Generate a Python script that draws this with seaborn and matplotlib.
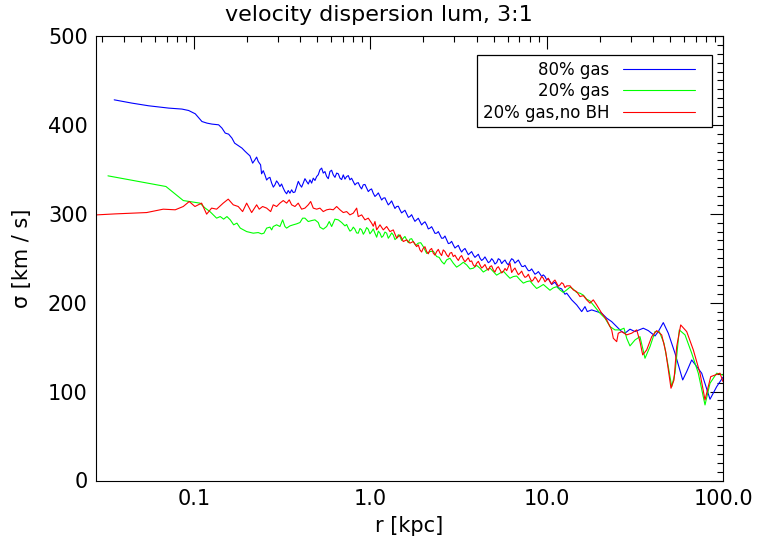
import matplotlib
matplotlib.use("Agg")
import matplotlib.pyplot as plt
import seaborn as sns
import pandas as pd
from matplotlib.legend_handler import HandlerLine2D
from matplotlib.ticker import FixedLocator, NullFormatter, FixedFormatter, LogLocator

# Radii [kpc] and luminosity-weighted velocity dispersion [km/s]
r_80gas = [0.03526, 0.04444, 0.05527, 0.07178, 0.0854, 0.0932, 0.1016, 0.1109, 0.1184, 0.1264,
           0.1379, 0.144, 0.1503, 0.1571, 0.1641, 0.1699, 0.1791, 0.187, 0.1936, 0.1995,
           0.2075, 0.215, 0.2215, 0.2265, 0.2313, 0.2385, 0.2416, 0.2524, 0.2636, 0.2756,
           0.2876, 0.3003, 0.307, 0.3206, 0.3278, 0.3351, 0.3422, 0.3499, 0.3578, 0.3653,
           0.3819, 0.3989, 0.4163, 0.4352, 0.4545, 0.4645, 0.4745, 0.496, 0.5177, 0.5295,
           0.5406, 0.5651, 0.59, 0.6161, 0.644, 0.6725, 0.7022, 0.7338, 0.766, 0.7998,
           0.8363, 0.873, 0.9115, 0.9528, 0.9948, 1.038, 1.086, 1.134, 1.184, 1.237,
           1.292, 1.349, 1.41, 1.472, 1.537, 1.607, 1.677, 1.751, 1.83, 1.911,
           1.996, 2.086, 2.178, 2.275, 2.377, 2.482, 2.591, 2.709, 2.828, 2.953,
           3.087, 3.223, 3.365, 3.518, 3.673, 3.835, 4.009, 4.185, 4.37, 4.567,
           4.769, 4.979, 5.205, 5.435, 5.674, 5.932, 6.193, 6.466, 6.76, 7.058,
           7.368, 7.703, 8.042, 8.395, 8.777, 9.163, 9.566, 10.0, 10.44, 10.9,
           11.4, 11.9, 12.42, 12.99, 13.86, 14.8, 15.8, 16.49, 16.99, 18.0,
           19.21, 20.51, 21.9, 23.37, 24.95, 26.63, 27.81, 29.68, 31.69, 35.31,
           37.7, 41.15, 42.95, 45.85, 48.95, 53.42, 59.08, 62.25, 66.45, 70.93,
           75.72, 84.4, 92.1, 100.0]
sig_80gas = [428.2, 424.5, 421.5, 418.9, 417.8, 416.2, 412.5, 403.8, 402.0, 400.9,
             400.1, 396.4, 390.8, 389.6, 385.1, 379.5, 376.5, 373.9, 370.8, 368.3,
             365.2, 357.0, 360.7, 363.8, 358.8, 355.1, 345.0, 343.8, 340.1, 334.5,
             332.6, 334.5, 330.7, 328.9, 325.0, 322.5, 326.2, 323.2, 327.0, 323.9,
             330.7, 332.6, 334.5, 336.3, 338.2, 334.5, 340.1, 341.9, 349.5, 351.4,
             345.8, 341.9, 347.6, 343.8, 345.8, 340.1, 343.8, 341.9, 338.2, 336.3,
             334.5, 330.7, 332.6, 328.9, 327.0, 323.2, 321.3, 319.4, 317.6, 313.8,
             312.0, 310.1, 308.2, 304.5, 302.5, 299.9, 296.9, 295.1, 293.2, 291.3,
             289.5, 287.6, 283.9, 281.9, 278.2, 276.3, 272.6, 270.7, 267.0, 265.1,
             263.1, 260.2, 259.4, 257.5, 255.7, 253.8, 252.7, 250.1, 249.0, 248.2,
             246.3, 247.4, 245.1, 248.2, 246.3, 244.5, 246.3, 248.2, 246.3, 244.5,
             240.6, 238.8, 236.1, 235.0, 233.2, 232.4, 231.3, 225.7, 223.7, 221.9,
             220.0, 216.3, 212.5, 210.7, 203.2, 197.5, 190.0, 195.6, 190.0, 191.9,
             190.0, 188.2, 182.6, 178.7, 173.1, 167.5, 165.7, 170.2, 167.5, 171.3,
             168.6, 162.6, 167.5, 177.6, 165.7, 143.2, 113.1, 122.5, 135.6, 128.1,
             120.7, 91.4, 105.6, 116.2]
# fine-scale scatter between the samples above
r_80gas_fine = [0.2469, 0.2580, 0.2694, 0.2817, 0.2939, 0.3137, 0.3735, 0.3903, 0.4075, 0.4256,
                0.4447, 0.4851, 0.5067, 0.5527, 0.5774, 0.6029, 0.6299, 0.6581, 0.6872, 0.7178,
                0.7497, 0.7827, 0.8178, 0.8544, 0.8920, 0.9319, 0.9735, 1.016, 1.062, 1.110,
                1.159, 1.210, 1.264, 1.320, 1.379, 1.441, 1.504, 1.571, 1.642, 1.714,
                1.790, 1.870, 1.953, 2.040, 2.131, 2.226, 2.325, 2.429, 2.536, 2.650,
                2.769, 2.890, 3.019, 3.155, 3.293, 3.441, 3.594, 3.753, 3.921, 4.097,
                4.277, 4.467, 4.667, 4.874, 5.089, 5.319, 5.555, 5.803, 6.061, 6.329,
                6.608, 6.908, 7.213, 7.534, 7.871, 8.218, 8.584, 8.970, 9.363, 9.779,
                10.22, 10.67, 11.14, 11.65, 12.16, 12.70]
sig_80gas_fine = [348.5, 338.0, 341.0, 330.0, 337.0, 333.5, 324.5, 336.5, 330.0, 339.5,
                  333.5, 337.5, 344.0, 347.5, 339.5, 349.0, 341.0, 345.0, 338.5, 339.0,
                  343.0, 340.0, 332.5, 335.0, 328.0, 333.0, 325.0, 328.0, 319.5, 323.5,
                  315.5, 318.0, 310.0, 314.5, 306.0, 308.5, 301.0, 304.0, 296.0, 299.0,
                  291.5, 295.0, 287.5, 291.0, 283.0, 285.5, 278.0, 280.0, 272.5, 275.0,
                  266.5, 269.0, 261.5, 264.5, 257.0, 261.0, 254.0, 257.5, 251.0, 254.5,
                  247.5, 251.5, 245.0, 249.5, 243.5, 249.5, 244.0, 248.0, 242.5, 249.5,
                  244.5, 248.0, 241.0, 242.0, 236.0, 238.0, 232.0, 235.0, 229.5, 229.5,
                  227.0, 220.5, 223.0, 216.5, 215.5, 209.5]

r_20gas = [0.0325, 0.0693, 0.0869, 0.108, 0.1157, 0.1231, 0.1343, 0.1408, 0.1472, 0.1537,
           0.1605, 0.1678, 0.1751, 0.1829, 0.1988, 0.2167, 0.2313, 0.2416, 0.2491, 0.2581,
           0.2695, 0.2756, 0.2813, 0.2941, 0.307, 0.3181, 0.3278, 0.3351, 0.3499, 0.3653,
           0.3819, 0.3989, 0.413, 0.4256, 0.4444, 0.4645, 0.4851, 0.5064, 0.5177, 0.5406,
           0.5651, 0.5846, 0.6032, 0.6297, 0.6576, 0.6875, 0.7177, 0.7497, 0.7833, 0.8177,
           0.8539, 0.8927, 0.9319, 0.973, 1.017, 1.062, 1.086, 1.134, 1.184, 1.237,
           1.292, 1.349, 1.41, 1.472, 1.537, 1.607, 1.677, 1.751, 1.869, 1.996,
           2.178, 2.377, 2.538, 2.709, 2.953, 3.223, 3.518, 3.835, 4.185, 4.567,
           4.979, 5.435, 5.932, 6.466, 7.058, 7.703, 8.395, 9.163, 10.0, 10.9,
           11.9, 12.99, 14.16, 15.45, 16.86, 18.38, 20.06, 21.42, 22.86, 24.4,
           26.05, 27.45, 28.43, 29.68, 31.69, 33.82, 36.11, 38.55, 41.15, 43.52,
           46.27, 48.95, 51.17, 53.42, 56.51, 60.89, 66.45, 72.43, 79.06, 84.4,
           92.1, 100.0]
sig_20gas = [342.7, 330.7, 314.9, 312.0, 306.4, 302.5, 295.1, 296.9, 294.0, 296.9,
             293.2, 287.6, 289.5, 283.9, 280.0, 278.2, 278.9, 277.4, 278.2, 283.9,
             285.0, 281.9, 285.7, 287.6, 285.7, 293.2, 285.7, 283.9, 286.4, 287.6,
             288.7, 290.2, 295.1, 295.1, 291.3, 292.4, 293.2, 290.2, 285.0, 282.7,
             285.7, 291.3, 285.7, 294.0, 293.2, 290.2, 286.4, 283.9, 281.9, 282.7,
             278.2, 281.9, 280.0, 282.7, 280.0, 278.2, 273.7, 278.2, 275.2, 278.2,
             275.2, 276.3, 272.6, 274.4, 272.6, 270.7, 271.5, 268.8, 267.0, 263.1,
             257.5, 251.9, 246.3, 248.2, 244.5, 242.5, 242.5, 238.8, 238.8, 236.9,
             235.0, 233.2, 231.3, 229.4, 225.7, 223.7, 220.0, 218.1, 217.2, 216.7,
             214.4, 214.4, 215.2, 210.7, 203.9, 197.5, 188.2, 182.6, 173.1, 169.4,
             169.4, 171.3, 160.0, 151.4, 158.1, 161.8, 137.5, 150.6, 167.5, 167.5,
             154.4, 128.1, 105.6, 120.7, 169.4, 163.8, 143.2, 120.7, 85.0, 109.4,
             120.7, 118.7]
r_20gas_fine = [0.7335, 0.7663, 0.8003, 0.8357, 0.8731, 0.9123, 0.9524, 0.9944, 1.039, 1.110,
                1.159, 1.210, 1.264, 1.320, 1.379, 1.441, 1.504, 1.571, 1.642, 1.714,
                1.809, 1.931, 2.085, 2.275, 2.456, 2.622, 2.828, 3.085, 3.367, 3.673,
                4.006, 4.372, 4.769, 5.202, 5.678, 6.193, 6.755, 7.373, 8.042, 8.771,
                9.572, 10.44, 11.39, 12.43, 13.56, 14.79, 16.14, 17.60]
sig_20gas_fine = [288.0, 280.5, 285.0, 278.5, 283.5, 277.0, 284.5, 277.5, 283.0, 280.5,
                  273.5, 279.5, 272.5, 278.5, 271.0, 276.5, 270.0, 274.5, 267.5, 272.0,
                  264.5, 267.5, 255.5, 258.0, 251.0, 243.5, 250.0, 240.0, 245.5, 238.0,
                  242.0, 234.5, 239.0, 231.0, 235.5, 227.5, 230.0, 222.0, 224.5, 216.0,
                  220.5, 214.0, 218.0, 211.5, 217.5, 211.5, 208.5, 202.0]

r_20gas_nobh = [0.02813, 0.03573, 0.05384, 0.06688, 0.07822, 0.08686, 0.09393, 0.1012, 0.1104, 0.1179,
                0.1258, 0.1343, 0.1464, 0.1563, 0.1669, 0.1781, 0.1886, 0.1988, 0.2122, 0.2265,
                0.2343, 0.2449, 0.2581, 0.272, 0.2813, 0.2941, 0.307, 0.3206, 0.3351, 0.3467,
                0.3578, 0.3735, 0.3899, 0.4076, 0.4256, 0.4444, 0.4587, 0.4745, 0.496, 0.5177,
                0.5406, 0.5651, 0.59, 0.6161, 0.644, 0.6725, 0.7022, 0.7338, 0.766, 0.7998,
                0.8363, 0.8539, 0.8927, 0.9319, 0.973, 1.017, 1.062, 1.086, 1.134, 1.184,
                1.237, 1.292, 1.349, 1.41, 1.472, 1.537, 1.607, 1.677, 1.751, 1.83,
                1.911, 1.996, 2.086, 2.178, 2.275, 2.377, 2.482, 2.591, 2.709, 2.828,
                2.953, 3.087, 3.223, 3.365, 3.518, 3.673, 3.835, 4.009, 4.185, 4.37,
                4.567, 4.769, 4.979, 5.205, 5.435, 5.674, 5.932, 6.193, 6.466, 6.76,
                7.058, 7.368, 7.703, 8.042, 8.395, 8.777, 9.163, 9.566, 10.0, 10.44,
                10.9, 11.4, 11.9, 12.42, 12.99, 14.16, 15.45, 16.86, 18.38, 19.21,
                20.51, 21.9, 23.37, 23.87, 24.95, 25.47, 26.63, 28.43, 30.35, 32.4,
                33.82, 35.04, 36.92, 39.42, 42.07, 44.9, 47.32, 48.95, 50.7, 52.73,
                54.62, 57.56, 62.25, 67.86, 74.06, 79.06, 85.17, 96.16, 100.0]
sig_20gas_nobh = [298.8, 299.9, 301.4, 305.2, 304.5, 308.2, 313.8, 308.2, 312.0, 299.6,
                  306.4, 305.2, 312.0, 316.5, 310.1, 308.2, 302.5, 312.0, 301.4, 310.1,
                  305.2, 308.2, 306.4, 302.5, 310.1, 308.2, 312.0, 314.9, 312.0, 315.7,
                  310.1, 308.2, 312.0, 305.2, 306.4, 310.1, 313.8, 306.4, 305.2, 306.4,
                  302.5, 304.5, 305.2, 304.5, 308.2, 304.5, 301.4, 302.5, 298.8, 300.7,
                  306.4, 296.9, 298.8, 293.2, 295.1, 289.5, 291.3, 281.9, 287.6, 281.9,
                  285.7, 280.0, 281.9, 272.6, 276.3, 268.8, 270.7, 267.0, 268.8, 263.1,
                  259.4, 261.3, 257.5, 259.4, 255.7, 257.5, 255.7, 259.4, 253.8, 255.7,
                  251.9, 250.1, 251.2, 249.0, 248.2, 246.3, 242.5, 244.5, 242.5, 240.6,
                  238.8, 240.6, 236.9, 238.8, 236.9, 235.0, 236.1, 244.5, 236.9, 235.0,
                  233.2, 231.3, 229.4, 227.6, 225.7, 226.5, 225.7, 227.6, 225.7, 223.7,
                  223.7, 221.9, 220.0, 221.2, 218.9, 214.4, 206.9, 203.2, 203.2, 197.5,
                  188.2, 180.6, 169.4, 160.0, 156.2, 165.7, 167.5, 163.8, 165.7, 169.4,
                  156.2, 141.3, 146.9, 161.8, 168.6, 163.8, 145.0, 124.4, 103.8, 113.1,
                  150.6, 175.0, 167.5, 146.9, 120.7, 90.6, 116.8, 120.7, 111.2]
r_20gas_nobh_fine = [1.039, 1.870, 1.953, 2.040, 2.131, 2.226, 2.325, 2.429, 2.536, 2.650,
                     2.769, 2.890, 3.019, 3.155, 3.293, 3.441, 3.594, 3.753, 3.921, 4.097,
                     4.277, 4.467, 4.667, 4.874, 5.089, 5.319, 5.555, 5.803, 6.329, 6.608,
                     6.908, 7.213, 7.534, 7.871, 8.218, 8.584, 8.970, 9.363, 9.779, 10.22,
                     10.67, 11.14, 11.65, 12.16, 12.70, 13.56, 14.79, 16.14, 17.60]
sig_20gas_nobh_fine = [286.0, 265.0, 257.0, 263.0, 255.0, 261.0, 253.5, 260.0, 253.0, 257.5,
                       251.5, 256.5, 253.5, 247.5, 253.0, 246.0, 250.5, 247.0, 240.5, 246.5,
                       239.0, 243.0, 236.5, 241.5, 234.5, 240.5, 233.5, 238.5, 234.0, 239.0,
                       231.5, 235.5, 228.5, 232.0, 224.0, 229.0, 223.0, 229.5, 223.5, 227.5,
                       221.0, 225.5, 218.5, 222.5, 217.0, 219.0, 212.5, 208.0, 199.5]

labels = ["80% gas", "20% gas", "20% gas,no BH"]
colors = ["#0000ff", "#00ff00", "#ff0000"]

df = pd.concat([
    pd.DataFrame({"r": r_80gas + r_80gas_fine, "sigma": sig_80gas + sig_80gas_fine,
                  "run": labels[0]}),
    pd.DataFrame({"r": r_20gas + r_20gas_fine, "sigma": sig_20gas + sig_20gas_fine,
                  "run": labels[1]}),
    pd.DataFrame({"r": r_20gas_nobh + r_20gas_nobh_fine,
                  "sigma": sig_20gas_nobh + sig_20gas_nobh_fine, "run": labels[2]}),
], ignore_index=True)

sns.set_style("white")
plt.rcParams["font.family"] = ["DejaVu Sans"]
for key in ("text.color", "axes.labelcolor", "xtick.color", "ytick.color"):
    plt.rcParams[key] = "black"

fig = plt.figure(figsize=(7.57, 5.49), dpi=100)
ax = fig.add_axes([96 / 757, 1 - 480.5 / 549, 627 / 757, 444.5 / 549])

sns.lineplot(data=df, x="r", y="sigma", hue="run", hue_order=labels,
             palette=dict(zip(labels, colors)), estimator=None, sort=True,
             linewidth=0.8, legend=False, ax=ax)

ax.set_xscale("log")
ax.set_xlim(0.0278, 100)
ax.set_ylim(0, 500)

ax.xaxis.set_major_locator(FixedLocator([0.1, 1.0, 10.0, 100.0]))
ax.xaxis.set_major_formatter(FixedFormatter(["0.1", "1.0", "10.0", "100.0"]))
ax.xaxis.set_minor_locator(LogLocator(base=10, subs=range(2, 10), numticks=20))
ax.xaxis.set_minor_formatter(NullFormatter())
ax.set_yticks(range(0, 501, 100))
ax.set_yticks(range(0, 501, 10), minor=True)

for side in ax.spines.values():
    side.set_linewidth(0.8)
    side.set_color("black")
ax.tick_params(which="both", direction="in", top=True, right=True,
               width=0.8, color="black", labelsize=15)
ax.tick_params(which="major", length=9.5, pad=6)
ax.tick_params(which="minor", length=4.5)

ax.set_xlabel("r [kpc]", fontsize=15, labelpad=5)
ax.set_ylabel("σ [km / s]", fontsize=15)
ax.yaxis.set_label_coords(-0.102, 0.5)
fig.text(0.5, 1 - 15 / 549, "velocity dispersion lum, 3:1", fontsize=16,
         ha="center", va="center")


class ShortLineHandler(HandlerLine2D):
    """Legend line that fills only the left part of the handle box."""
    def create_artists(self, legend, orig_handle, xdescent, ydescent, width,
                       height, fontsize, trans):
        return super().create_artists(legend, orig_handle, xdescent, ydescent,
                                      width * 0.86, height, fontsize, trans)


handles = ax.get_lines()[:3]
leg = ax.legend(handles, labels, loc="upper right", bbox_to_anchor=(0.9825, 0.957),
                borderaxespad=0, markerfirst=False, fontsize=12, frameon=True,
                fancybox=False, edgecolor="black", framealpha=1, handlelength=5.0,
                handletextpad=0.8, labelspacing=0.2, borderpad=0.35,
                handler_map={h: ShortLineHandler() for h in handles})
leg.get_frame().set_linewidth(0.9)
for col in leg._legend_handle_box.get_children():
    col.align = "right"

fig.savefig("out.png", dpi=100, facecolor="white")
